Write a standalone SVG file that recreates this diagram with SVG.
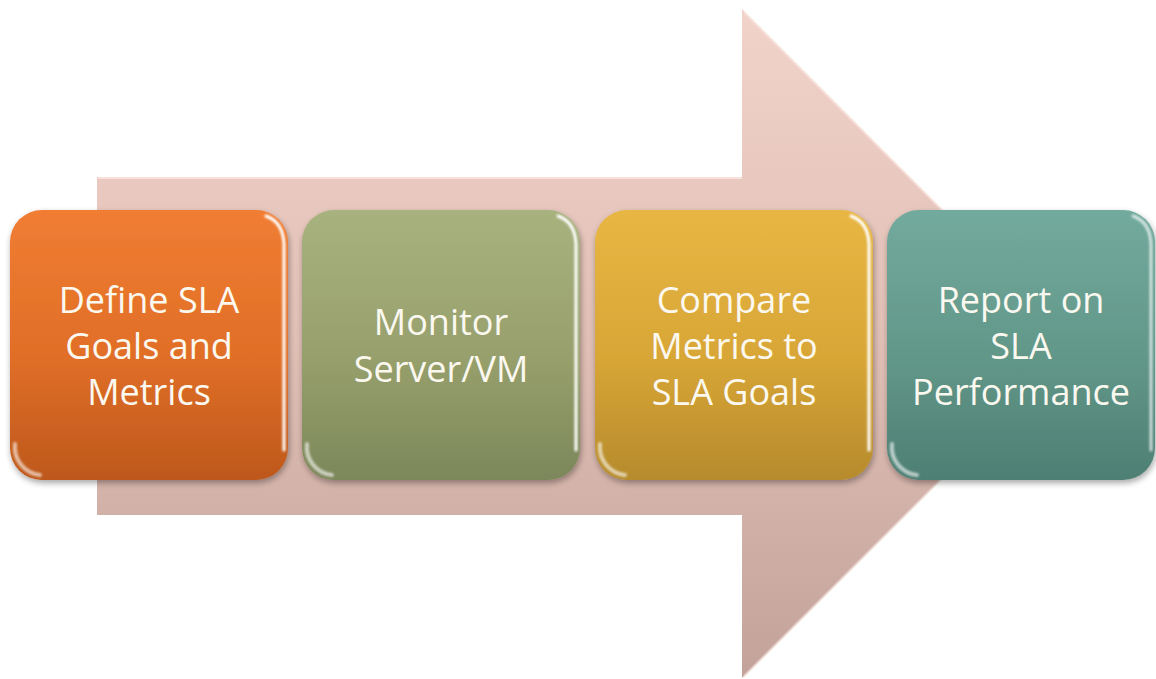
<svg xmlns="http://www.w3.org/2000/svg" width="1156" height="679" viewBox="0 0 1156 679">
  <defs>
    <linearGradient id="arrowFill" x1="0" y1="0" x2="0" y2="1">
      <stop offset="0" stop-color="#f1d3c9"/>
      <stop offset="0.5" stop-color="#e1c0b6"/>
      <stop offset="1" stop-color="#c2a299"/>
    </linearGradient>
    <linearGradient id="gOrange" x1="0" y1="0" x2="0" y2="1">
      <stop offset="0" stop-color="#f07d32"/>
      <stop offset="0.55" stop-color="#e06e27"/>
      <stop offset="1" stop-color="#bd581c"/>
    </linearGradient>
    <linearGradient id="gGreen" x1="0" y1="0" x2="0" y2="1">
      <stop offset="0" stop-color="#a8b27f"/>
      <stop offset="0.55" stop-color="#97a06c"/>
      <stop offset="1" stop-color="#7c875a"/>
    </linearGradient>
    <linearGradient id="gGold" x1="0" y1="0" x2="0" y2="1">
      <stop offset="0" stop-color="#e8b643"/>
      <stop offset="0.55" stop-color="#d8a636"/>
      <stop offset="1" stop-color="#b68b2d"/>
    </linearGradient>
    <linearGradient id="gTeal" x1="0" y1="0" x2="0" y2="1">
      <stop offset="0" stop-color="#72aa9d"/>
      <stop offset="0.55" stop-color="#619789"/>
      <stop offset="1" stop-color="#4e7f73"/>
    </linearGradient>
    <linearGradient id="shine" x1="0" y1="0" x2="1" y2="0">
      <stop offset="0" stop-color="#fff" stop-opacity="0"/>
      <stop offset="0.12" stop-color="#fff" stop-opacity="0.6"/>
      <stop offset="0.88" stop-color="#fff" stop-opacity="0.6"/>
      <stop offset="1" stop-color="#fff" stop-opacity="0"/>
    </linearGradient>
    <linearGradient id="side" x1="0" y1="0" x2="0" y2="1">
      <stop offset="0" stop-color="#fff" stop-opacity="0.8"/>
      <stop offset="0.5" stop-color="#fff" stop-opacity="0.35"/>
      <stop offset="1" stop-color="#fff" stop-opacity="0.15"/>
    </linearGradient>
    <filter id="soft" x="-10%" y="-10%" width="120%" height="120%">
      <feGaussianBlur in="SourceAlpha" stdDeviation="3"/>
      <feOffset dx="1" dy="3" result="b"/>
      <feComponentTransfer><feFuncA type="linear" slope="0.35"/></feComponentTransfer>
      <feMerge><feMergeNode/><feMergeNode in="SourceGraphic"/></feMerge>
    </filter>
    <filter id="blur1" x="-20%" y="-20%" width="140%" height="140%"><feGaussianBlur stdDeviation="1.3"/></filter>
  </defs>
  <style>
    .box { filter: url(#soft); }
    .edge { fill: none; stroke: #fff; stroke-linecap: round; filter: url(#blur1); }
    .lbl { font-family: "Open Sans", "Noto Sans", sans-serif; font-size: 36px; font-weight: 500; fill: #fbf8f0; text-anchor: middle; }
  </style>

  <!-- large background arrow -->
  <g id="arrow">
    <path d="M97,177 H742 V9 L1077,344 L742,678 V515 H97 Z" fill="url(#arrowFill)"/>
    <path d="M98,178 H742 M744,12 L1075,343" fill="none" stroke="#fbe6de" stroke-width="2" opacity="0.8"/>
    <path d="M744,676 L1075,345" fill="none" stroke="#e8d4ce" stroke-width="2" opacity="0.8"/>
  </g>

  <g id="connectors"></g>

  <!-- step 1 -->
  <g id="step1">
    <rect class="box" x="10" y="210" width="278" height="270" rx="32" fill="url(#gOrange)"/>
    <path class="edge" d="M36,218 H262" stroke="url(#shine)" stroke-width="5"/>
    <path class="edge" d="M266,216 Q283,222 284,244 V450" stroke="url(#side)" stroke-width="3"/>
    <path class="edge" d="M15,444 A28,28 0 0 0 40,475" stroke-width="4" opacity="0.6"/>
    <text class="lbl"><tspan x="149" y="313">Define SLA</tspan><tspan x="149" y="359">Goals and</tspan><tspan x="149" y="405">Metrics</tspan></text>
  </g>

  <!-- step 2 -->
  <g id="step2">
    <rect class="box" x="302" y="210" width="278" height="270" rx="32" fill="url(#gGreen)"/>
    <path class="edge" d="M328,218 H554" stroke="url(#shine)" stroke-width="5"/>
    <path class="edge" d="M558,216 Q575,222 576,244 V450" stroke="url(#side)" stroke-width="3"/>
    <path class="edge" d="M307,444 A28,28 0 0 0 332,475" stroke-width="4" opacity="0.6"/>
    <text class="lbl"><tspan x="441" y="335">Monitor</tspan><tspan x="441" y="382">Server/VM</tspan></text>
  </g>

  <!-- step 3 -->
  <g id="step3">
    <rect class="box" x="595" y="210" width="278" height="270" rx="32" fill="url(#gGold)"/>
    <path class="edge" d="M621,218 H847" stroke="url(#shine)" stroke-width="5"/>
    <path class="edge" d="M851,216 Q868,222 869,244 V450" stroke="url(#side)" stroke-width="3"/>
    <path class="edge" d="M600,444 A28,28 0 0 0 625,475" stroke-width="4" opacity="0.6"/>
    <text class="lbl"><tspan x="734" y="313">Compare</tspan><tspan x="734" y="359">Metrics to</tspan><tspan x="734" y="405">SLA Goals</tspan></text>
  </g>

  <!-- step 4 -->
  <g id="step4">
    <rect class="box" x="887" y="210" width="268" height="270" rx="32" fill="url(#gTeal)"/>
    <path class="edge" d="M913,218 H1129" stroke="url(#shine)" stroke-width="5"/>
    <path class="edge" d="M1133,216 Q1150,222 1151,244 V450" stroke="url(#side)" stroke-width="3" opacity="0.7"/>
    <path class="edge" d="M892,444 A28,28 0 0 0 917,475" stroke-width="4" opacity="0.6"/>
    <text class="lbl"><tspan x="1021" y="313">Report on</tspan><tspan x="1021" y="359">SLA</tspan><tspan x="1021" y="405">Performance</tspan></text>
  </g>
</svg>
